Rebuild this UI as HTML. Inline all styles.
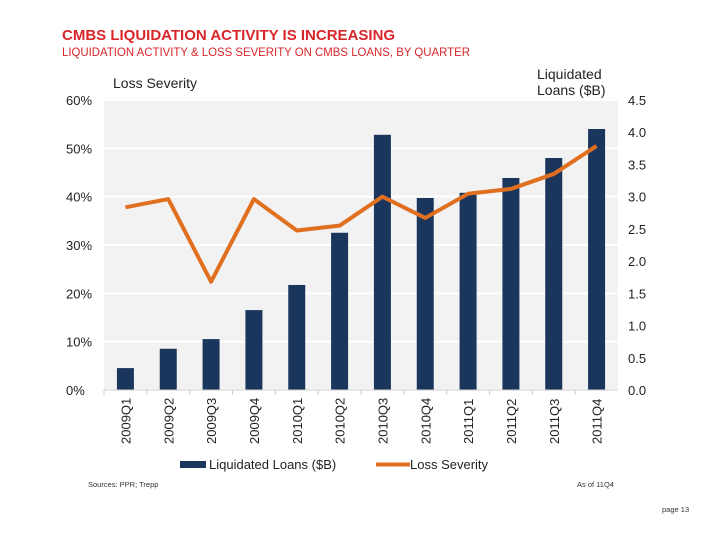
<!DOCTYPE html>
<html><head><meta charset="utf-8"><style>
body{margin:0;width:720px;height:540px;background:#fff;overflow:hidden;font-family:"Liberation Sans",sans-serif;}
svg{position:absolute;left:0;top:0}
</style></head><body>
<svg id="c" width="720" height="540">
<text x="62" y="40" fill="#d9262a" font-size="15" font-weight="bold">CMBS LIQUIDATION ACTIVITY IS INCREASING</text>
<text x="62" y="56" fill="#d9262a" font-size="11.5" textLength="408" lengthAdjust="spacingAndGlyphs">LIQUIDATION ACTIVITY &amp; LOSS SEVERITY ON CMBS LOANS, BY QUARTER</text>
<text x="113" y="88" fill="#222" font-size="14">Loss Severity</text>
<text x="537" y="79" fill="#222" font-size="14">Liquidated</text>
<text x="537" y="95" fill="#222" font-size="14">Loans ($B)</text>
<rect x="104" y="100" width="514" height="290" fill="#f2f2f2"/>
<g id="grid"></g><g id="bars"></g><g id="line"></g><g id="axes"></g>
<rect x="180" y="461" width="26" height="7" fill="#1b365d"/>
<text x="209" y="469" font-size="13" fill="#222">Liquidated Loans ($B)</text>
<line x1="376" y1="464.5" x2="410" y2="464.5" stroke="#e07020" stroke-width="4"/>
<text x="410" y="469" font-size="13" fill="#222">Loss Severity</text>
<text x="88" y="487" font-size="7.5" fill="#333">Sources: PPR; Trepp</text>
<text x="577" y="487" font-size="7.5" fill="#333">As of 11Q4</text>
<text x="662" y="512" font-size="7.5" fill="#333">page 13</text>
</svg>
<script>
const categories=["2009Q1","2009Q2","2009Q3","2009Q4","2010Q1","2010Q2","2010Q3","2010Q4","2011Q1","2011Q2","2011Q3","2011Q4"];
const liquidatedLoans=[0.34,0.64,0.79,1.24,1.63,2.44,3.96,2.98,3.06,3.29,3.6,4.05];
const lossSeverity=[37.8,39.5,22.4,39.5,33,34,40,35.6,40.6,41.6,44.7,50.5];
const leftTicks=["0%","10%","20%","30%","40%","50%","60%"];
const rightTicks=["0.0","0.5","1.0","1.5","2.0","2.5","3.0","3.5","4.0","4.5"];
const NS="http://www.w3.org/2000/svg";
const X0=104,X1=618,Y0=390,Y1=100;
const step=(X1-X0)/categories.length;
const xc=i=>X0+step*(i+0.5);
const yL=v=>Y0-(v/60)*(Y0-Y1);
const yR=v=>Y0-(v/4.5)*(Y0-Y1);
function mk(t,a,p){const e=document.createElementNS(NS,t);for(const k in a)e.setAttribute(k,a[k]);p.appendChild(e);return e;}
const grid=document.getElementById('grid'),bars=document.getElementById('bars'),line=document.getElementById('line'),axes=document.getElementById('axes');
leftTicks.forEach((t,i)=>{const y=yL(i*10);
 const g=mk('line',{x1:X0,x2:X1,y1:y,y2:y,stroke:'#fff','stroke-width':2},grid);
 
 
 const tx=mk('text',{x:66,y:y+5,'font-size':13,fill:'#222'},axes);tx.textContent=t;
 
 });
rightTicks.forEach((t,i)=>{const y=yR(i*0.5);
 const tx=mk('text',{x:628,y:y+5,'font-size':13,fill:'#222'},axes);tx.textContent=t;
 
 });
mk('line',{x1:X0,x2:X1,y1:Y0,y2:Y0,stroke:'#ccc'},axes);
categories.forEach((c,i)=>{
 const v=liquidatedLoans[i];
 const r=mk('rect',{x:xc(i)-8.5,y:yR(v),width:17,height:Y0-yR(v),fill:'#1b365d'},bars);
 
 
 const tk=mk('line',{x1:X0+step*i,x2:X0+step*i,y1:Y0,y2:Y0+5,stroke:'#ccc'},axes);
 const tx=mk('text',{x:0,y:0,'font-size':13,fill:'#222',transform:`translate(${xc(i)+5},444) rotate(-90)`},axes);
 tx.textContent=c;
 
 
});
const pts=lossSeverity.map((v,i)=>xc(i)+','+yL(v)).join(' ');
const pl=mk('polyline',{points:pts,fill:'none',stroke:'#e07020','stroke-width':4,'stroke-linejoin':'round'},line);


</script>
</body></html>
